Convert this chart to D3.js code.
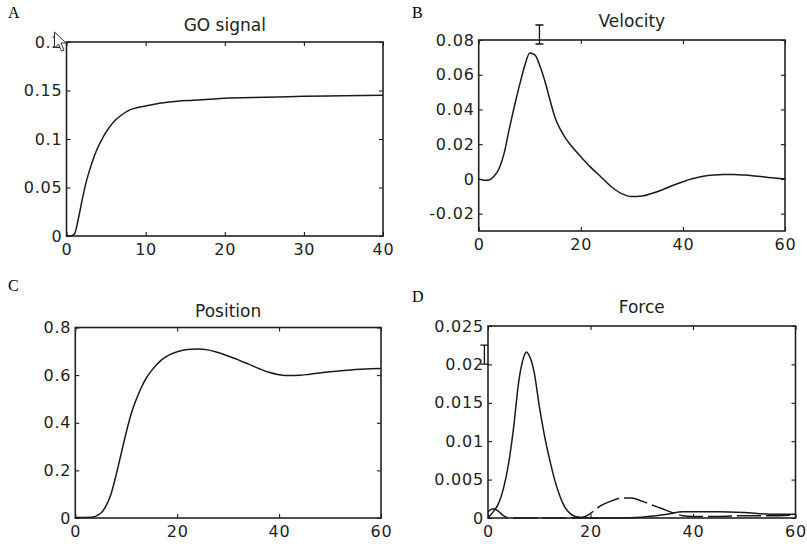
<!DOCTYPE html>
<html>
<head>
<meta charset="utf-8">
<script src="https://cdn.jsdelivr.net/npm/d3@7"></script>
<style>
  body { margin: 0; background: #fff; }
  svg { display: block; }
  .axis text { font-family: "DejaVu Sans", sans-serif; font-size: 16px; letter-spacing: 0.8px; fill: #222; }
  .title { font-family: "DejaVu Sans", sans-serif; font-size: 17px; fill: #222; }
  .letter { font-family: "Liberation Serif", "Times New Roman", serif; font-size: 16px; fill: #000; }
</style>
</head>
<body>
<div id="container"></div>
<script>
// ---- data ----
// A: GO signal
const goTime = [0, 0.5, 1, 1.5, 2, 2.5, 3, 3.5, 4, 4.5, 5, 6, 7, 8, 9, 10, 12, 14, 16, 18, 20, 25, 30, 35, 40];
const goValue = [0, 0, 0.002, 0.018, 0.038, 0.056, 0.07, 0.082, 0.092, 0.1, 0.107, 0.118, 0.125, 0.13, 0.1325, 0.134, 0.137, 0.139, 0.14, 0.141, 0.142, 0.143, 0.144, 0.1445, 0.145];

// B: velocity
const velTime = [0, 1, 2, 3, 4, 5, 6, 7, 8, 9, 10, 11, 12, 13, 14, 15, 16, 17, 18, 20, 22, 24, 26, 28, 30, 32, 34, 36, 38, 40, 42, 44, 46, 48, 50, 52, 54, 56, 58, 60];
const velValue = [0, -0.0008, -0.0006, 0.0015, 0.006, 0.015, 0.029, 0.042, 0.054, 0.065, 0.0725, 0.0715, 0.065, 0.056, 0.045, 0.035, 0.0285, 0.0235, 0.0195, 0.0128, 0.0065, 0.001, -0.0045, -0.0085, -0.0102, -0.0099, -0.0083, -0.0062, -0.0038, -0.0016, 0.0002, 0.0015, 0.0022, 0.0025, 0.0025, 0.0022, 0.0017, 0.0011, 0.0005, 0];

// C: position
const posTime = [0, 3, 5, 6, 7, 8, 9, 10, 11, 12, 13, 14, 15, 16, 17, 18, 20, 22, 24, 26, 28, 30, 32, 34, 36, 38, 40, 42, 44, 46, 48, 50, 52, 54, 56, 58, 60];
const posValue = [0.002, 0.003, 0.02, 0.05, 0.1, 0.18, 0.27, 0.36, 0.44, 0.5, 0.55, 0.59, 0.62, 0.645, 0.665, 0.68, 0.698, 0.708, 0.71, 0.706, 0.695, 0.68, 0.664, 0.646, 0.628, 0.612, 0.602, 0.598, 0.599, 0.604, 0.609, 0.614, 0.618, 0.622, 0.625, 0.627, 0.628];

// D: force (solid and dashed)
const forceTime = [0, 1, 2, 3, 4, 5, 6, 7, 7.5, 8, 9, 10, 11, 12, 13, 14, 15, 16, 17, 18, 20, 25, 30, 35, 38, 40, 45, 50, 55, 60];
const forceSolid = [0, 0.0008, 0.0018, 0.0038, 0.007, 0.0118, 0.0178, 0.021, 0.0216, 0.0212, 0.019, 0.0146, 0.0108, 0.0077, 0.005, 0.0029, 0.0014, 0.0006, 0.0002, 0.0001, 0, 0, 0.0001, 0.0005, 0.0008, 0.0008, 0.0008, 0.0007, 0.0005, 0.0005];
const forceDashTime = [0, 1, 2, 3, 4, 10, 18, 19, 20, 21, 22, 24, 26, 28, 30, 32, 34, 36, 38, 40, 45, 50, 55, 60];
const forceDash = [0.0008, 0.0012, 0.0009, 0.0003, 0, 0, 0, 0.0002, 0.0006, 0.0011, 0.0016, 0.0022, 0.0026, 0.0026, 0.0022, 0.0017, 0.0012, 0.0007, 0.0003, 0.0002, 0.0002, 0.0003, 0.0003, 0.0004];

// ticks
const goXTicks = [0, 10, 20, 30, 40];
const goYTicks = [0, 0.05, 0.1, 0.15, 0.2];
const velXTicks = [0, 20, 40, 60];
const velYTicks = [-0.02, 0, 0.02, 0.04, 0.06, 0.08];
const posXTicks = [0, 20, 40, 60];
const posYTicks = [0, 0.2, 0.4, 0.6, 0.8];
const forceXTicks = [0, 20, 40, 60];
const forceYTicks = [0, 0.005, 0.01, 0.015, 0.02, 0.025];

const zip = (xs, ys) => xs.map((x, i) => [x, ys[i]]);
const fmt = (d) => String(+d.toFixed(4));

const svg = d3.select("#container").append("svg")
  .attr("width", 807).attr("height", 547);

// draws frame, ticks on all 4 sides, labels, title and panel letter
const drawPanel = (p) => {
  const x = d3.scaleLinear().domain(p.xDomain).range([p.left, p.right]);
  const y = d3.scaleLinear().domain(p.yDomain).range([p.bottom, p.top]);
  const g = svg.append("g");

  g.append("g").attr("class", "axis").attr("transform", `translate(0,${p.bottom})`)
    .call(d3.axisBottom(x).tickValues(p.xTicks).tickSize(-4).tickPadding(8).tickFormat(fmt))
    .call((a) => a.select(".domain").remove());
  g.append("g").attr("class", "axis").attr("transform", `translate(${p.left},0)`)
    .call(d3.axisLeft(y).tickValues(p.yTicks).tickSize(-4).tickPadding(4).tickFormat(fmt))
    .call((a) => a.select(".domain").remove());
  g.append("g").attr("transform", `translate(0,${p.top})`)
    .call(d3.axisTop(x).tickValues(p.xTicks).tickSize(-4).tickFormat(""))
    .call((a) => a.select(".domain").remove());
  g.append("g").attr("transform", `translate(${p.right},0)`)
    .call(d3.axisRight(y).tickValues(p.yTicks).tickSize(-4).tickFormat(""))
    .call((a) => a.select(".domain").remove());
  g.selectAll(".axis text").attr("font-size", null).attr("font-family", null);

  g.append("rect")
    .attr("x", p.left).attr("y", p.top)
    .attr("width", p.right - p.left).attr("height", p.bottom - p.top)
    .attr("fill", "none").attr("stroke", "#222").attr("stroke-width", 1.6);

  g.append("text").attr("class", "title")
    .attr("x", (p.left + p.right) / 2).attr("y", p.top - p.titleGap)
    .attr("text-anchor", "middle").text(p.title);
  g.append("text").attr("class", "letter")
    .attr("x", p.letterX).attr("y", p.letterY).text(p.letter);

  const line = d3.line().x((d) => x(d[0])).y((d) => y(d[1])).curve(d3.curveMonotoneX);
  p.series.forEach((s) => {
    g.append("path").datum(s.data)
      .attr("d", line)
      .attr("fill", "none").attr("stroke", "#1a1a1a").attr("stroke-width", 1.5)
      .attr("stroke-dasharray", s.dash || null);
  });
  return { x, y };
};

const a = drawPanel({
  left: 66.5, right: 383, top: 42, bottom: 236,
  xDomain: [0, 40], yDomain: [0, 0.2], xTicks: goXTicks, yTicks: goYTicks,
  title: "GO signal", titleGap: 11, letter: "A", letterX: 8, letterY: 18,
  series: [{ data: zip(goTime, goValue) }],
});
const b = drawPanel({
  left: 478.7, right: 785, top: 40, bottom: 231,
  xDomain: [0, 60], yDomain: [-0.03, 0.08], xTicks: velXTicks, yTicks: velYTicks,
  title: "Velocity", titleGap: 13, letter: "B", letterX: 412, letterY: 18,
  series: [{ data: zip(velTime, velValue) }],
});
drawPanel({
  left: 75.3, right: 381, top: 327.5, bottom: 518,
  xDomain: [0, 60], yDomain: [0, 0.8], xTicks: posXTicks, yTicks: posYTicks,
  title: "Position", titleGap: 11, letter: "C", letterX: 8, letterY: 291,
  series: [{ data: zip(posTime, posValue) }],
});
const d = drawPanel({
  left: 488, right: 795.5, top: 326, bottom: 518,
  xDomain: [0, 60], yDomain: [0, 0.025], xTicks: forceXTicks, yTicks: forceYTicks,
  title: "Force", titleGap: 13, letter: "D", letterX: 412, letterY: 302,
  series: [{ data: zip(forceTime, forceSolid) }, { data: zip(forceDashTime, forceDash), dash: "24,5" }],
});

// mouse cursors captured in the original screenshot
const iBeam = (cx, cy) => {
  svg.append("path")
    .attr("d", `M${cx - 4},${cy} h8 M${cx},${cy} v19 M${cx - 4},${cy + 19} h8`)
    .attr("stroke", "#111").attr("stroke-width", 1.3).attr("fill", "none");
};
iBeam(b.x(11.9), b.y(0.08) - 15);
iBeam(d.x(-0.7), d.y(0.0225));

const ax = a.x(0) - 12, ay = a.y(0.2) - 10;
svg.append("path")
  .attr("transform", `translate(${ax},${ay})`)
  .attr("d", "M0,0 L0,16 L4,12 L7,19 L9.5,18 L6.5,11 L11.5,11 Z")
  .attr("fill", "#fff").attr("stroke", "#333").attr("stroke-width", 1);
</script>
</body>
</html>
